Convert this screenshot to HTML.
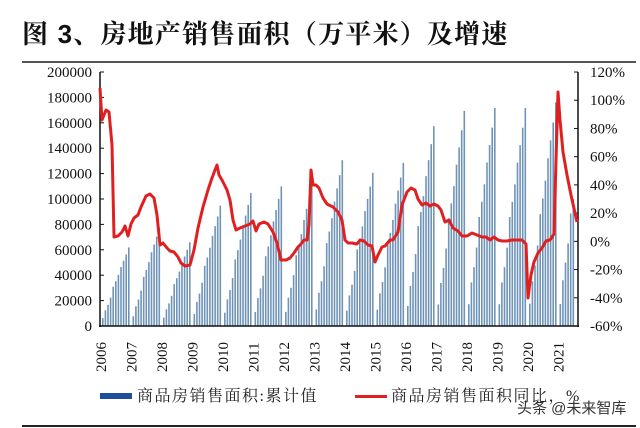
<!DOCTYPE html>
<html><head><meta charset="utf-8"><style>
html,body{margin:0;padding:0;background:#fff;width:640px;height:428px;overflow:hidden}
svg{display:block}
text{font-family:"Liberation Serif","Noto Serif CJK SC",serif;font-size:15px;fill:#111}
.t{font-family:"Liberation Sans","Noto Serif CJK SC",serif;font-weight:bold;font-size:26px;letter-spacing:1.2px}
.lg{font-family:"Liberation Serif","Noto Serif CJK SC",serif;font-size:16px;fill:#222;letter-spacing:1.5px}
</style></head><body>
<svg id="s" width="640" height="428" viewBox="0 0 640 428" xmlns="http://www.w3.org/2000/svg">
<text x="22" y="43" class="t">图 3、房地产销售面积（万平米）及增速</text>
<rect x="22" y="61" width="614" height="2" fill="#555"/>
<g id="bars"></g>
<g id="axes"></g>
<polyline id="line" fill="none" stroke="#e02020" stroke-width="3" stroke-linejoin="round" points=""/>
<rect x="100" y="393" width="32" height="6" fill="#1f4e9a"/>
<text x="137" y="401" class="lg">商品房销售面积:累计值</text>
<rect x="355" y="395" width="32" height="3" fill="#e02020"/>
<text x="391" y="401" class="lg">商品房销售面积同比，%</text>
<text x="517" y="413" style="font-family:'Liberation Sans','Noto Sans CJK SC',sans-serif;font-size:15px;fill:#333">头条 @未来智库</text>
<rect x="22" y="425" width="614" height="2" fill="#222"/>
</svg>
<script>
var ns="http://www.w3.org/2000/svg";
function el(p,t,a,txt){var e=document.createElementNS(ns,t);for(var k in a)e.setAttribute(k,a[k]);if(txt!=null)e.textContent=txt;p.appendChild(e);return e;}
var bars=document.getElementById('bars'),ax=document.getElementById('axes');
var tot=[61900,77355,65970,94755,104765,109946,111304,130551,120649,128495,157349,169408,171654,171558,176086];
var fr=[.1,.2,.27,.36,.5,.57,.65,.75,.83,.91,1];
function Y(v){return 326-v/200000*254;}
for(var i=0;i<16;i++){
 var x0=102+i*30.5;
 var n=i<15?11:6;
 for(var m=0;m<n;m++){
  var v=i<15?tot[i]*fr[m]:[17363,36007,50000,65000,88635,100000][m];
  el(bars,'rect',{x:x0+m*2.6,y:Y(v),width:1.6,height:326-Y(v),fill:'#6f94b8'});
 }
 var lx=100+i*30.5+6;
 el(ax,'text',{x:0,y:0,transform:'translate('+lx+',372) rotate(-90)'},String(2006+i));
}
el(ax,'line',{x1:100,y1:72,x2:100,y2:327,stroke:'#111','stroke-width':1.5});
el(ax,'line',{x1:99,y1:326,x2:579,y2:326,stroke:'#111','stroke-width':1.5});
el(ax,'line',{x1:578,y1:72,x2:578,y2:327,stroke:'#111','stroke-width':1.5});
for(var k=0;k<=10;k++){
 var y=326-k*25.4;
 el(ax,'line',{x1:100,y1:y,x2:104,y2:y,stroke:'#111'});
 el(ax,'text',{x:92,y:y+5,'text-anchor':'end'},String(k*20000));
}
for(var k=0;k<=9;k++){
 var y=326-k*28.22;
 el(ax,'line',{x1:574,y1:y,x2:578,y2:y,stroke:'#111'});
 el(ax,'text',{x:590,y:y+5},(k*20-60)+'%');
}
var pts=[[100,88],[102,120],[106,110],[109,112],[112,145],[114,237],[118,236],[122,232],[125,226],[128,236],[131,224],[134,218],[138,215],[141,207],[146,196],[150,194],[154,198],[157,215],[160,245],[163,243],[167,248],[170,251],[174,252],[178,257],[181,263],[185,266],[190,265],[194,250],[198,228],[203,207],[208,190],[212,178],[215,170],[217,165],[219,175],[222,180],[227,190],[230,200],[233,220],[236,230],[240,228],[245,226],[250,224],[253,221],[256,231],[259,224],[264,222],[268,224],[273,232],[277,243],[281,260],[286,260],[290,258],[294,253],[298,247],[301,244],[304,240],[307,240],[309,225],[311,170],[313,185],[316,185],[319,188],[323,198],[327,204],[333,207],[338,212],[342,220],[345,240],[348,243],[352,243],[357,244],[360,240],[364,241],[368,245],[372,246],[375,262],[378,255],[382,247],[385,246],[390,240],[393,240],[398,232],[402,205],[407,192],[411,188],[415,190],[418,199],[422,205],[426,203],[430,206],[434,204],[438,206],[441,210],[445,222],[449,220],[453,228],[458,231],[462,236],[467,236],[472,233],[477,235],[482,237],[486,237],[490,240],[494,237],[498,240],[502,241],[507,241],[512,240],[517,240],[522,240],[526,244],[528,298],[531,275],[534,262],[538,253],[542,248],[546,241],[550,240],[554,234],[556,160],[558,92],[560,120],[563,152],[567,175],[571,195],[575,213],[577,222]];
document.getElementById('line').setAttribute('points',pts.map(function(p){return p.join(',');}).join(' '));
</script>
</body></html>
